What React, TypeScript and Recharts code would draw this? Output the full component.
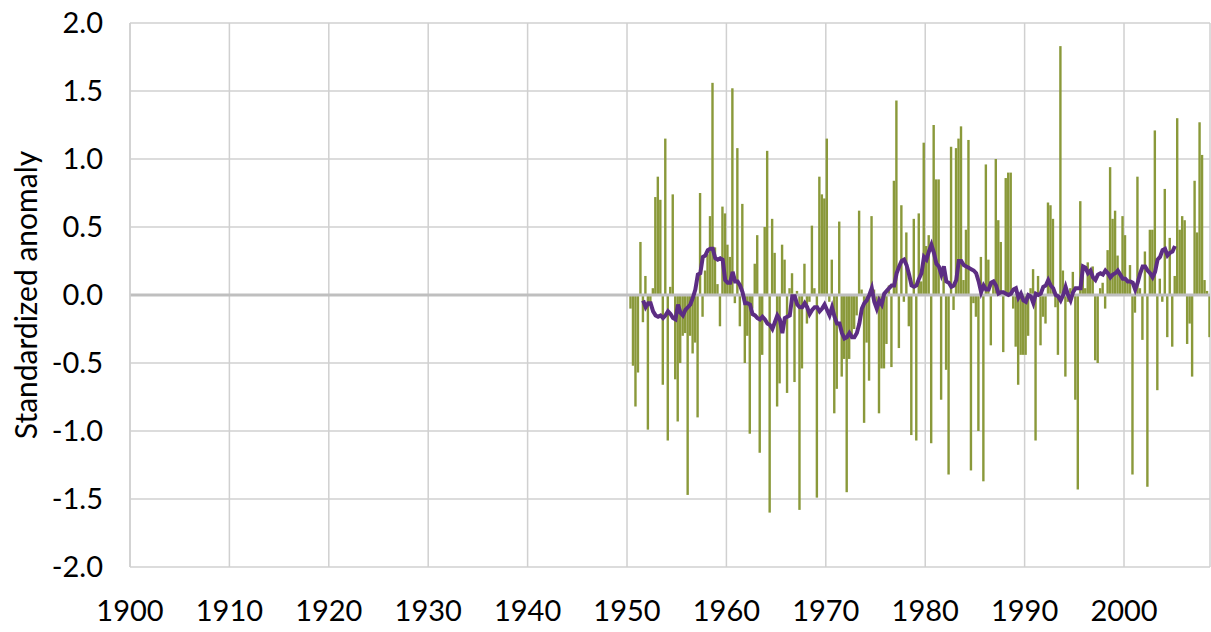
import { ComposedChart, Bar, Line, XAxis, YAxis, CartesianGrid, ReferenceLine } from 'recharts';

// seasonal values, one bar every quarter from 1950.375 onwards
const firstBarYear = 1950.375;
const step = 0.25;

const anomaly = [
    -0.10, -0.52, -0.82, -0.57, 0.39, -0.20, 0.14, -0.99, -0.08, 0.05,
    0.72, 0.87, 0.70, -0.66, 1.15, -1.07, 0.06, 0.74, -0.62, -0.93,
    -0.50, -0.30, -0.28, -1.47, -0.30, -0.43, -0.35, -0.90, 0.75, -0.16,
    0.18, 0.30, 0.58, 1.56, 0.35, 0.08, -0.23,
    0.65, 0.60, 0.37, 0.28, 1.52, -0.06, 1.08, -0.23, 0.67, -0.50,
    -0.30, -1.02, -0.10, 0.23, 0.44, -1.16, -0.44, 0.50, 1.06, -1.60,
    0.56, 0.31, -0.82, -0.65, 0.37, 0.26, -0.72, 0.05, 0.16, -0.64,
    0.03, -1.58, -0.54, 0.23, -0.21, -0.05, 0.51, 0.05, -1.49, 0.87,
    0.74, 0.71, 1.15, -0.05, 0.26, -0.87, -0.69, 0.54, -0.60, -0.47,
    -1.45, -0.47, -0.30, -0.25, -0.15, 0.62, 0.04, -0.94, -0.35, -0.63,
    0.58, 0.04, -0.10, -0.87, -0.54, -0.54, -0.36, 0.07, -0.53, 0.84,
    1.43, -0.39, 0.66, -0.05, 0.46, -0.23, -1.03, 0.56, -1.07,
    0.60, 0.10, 1.12, 0.36, 0.44, -1.09, 1.25, 0.85, 0.85, -0.77,
    0.16, -0.55, -1.32, 1.09, -0.11, 1.08, 1.15, 1.24, 0.11, 0.48,
    1.14, -1.29, -0.06, -0.16, -1.00, 0.28, -1.37, 0.96, 0.26, -0.37,
    0.10, 1.00, 0.55, 0.39, -0.42, 0.86, 0.90, 0.90, -0.10, -0.38,
    -0.66, -0.44, -0.44, -0.44, -0.30, 0.05, 0.19, -1.07, 0.14, -0.37,
    -0.16, -0.21, 0.68, 0.66, 0.56, -0.09, -0.44, 1.83, 0.18, -0.60,
    -0.05, 0.05, 0.17, -0.77, -1.43, 0.69, 0.21, 0.05, 0.24, 0.16,
    0.21, -0.48, -0.50, 0.05, 0.09, -0.10, 0.33, 0.94, 0.56,
    0.62, 0.29, 0.15, 0.58, 0.44, 0.10, 0.22, -1.32, -0.13, 0.87,
    0.05, -0.33, 0.32, -1.41, 0.48, 0.48, 1.21, -0.70, 0.12, -0.05,
    0.78, -0.31, 0.42, -0.38, 0.14, 1.30, 0.48, 0.58, 0.55, -0.36,
    -0.21, -0.60, 0.84, 0.46, 1.27, 1.03, 0.11, 0.03, -0.31,
];

// running mean starts 5 seasons after the first bar
const meanOffset = 5;
const runningMean = [
    -0.04, -0.09, -0.06, -0.06, -0.12, -0.15, -0.16, -0.15, -0.17, -0.15,
    -0.12, -0.14, -0.17, -0.18, -0.07, -0.13, -0.15, -0.11, -0.09, -0.07,
    -0.02, 0.04, 0.15, 0.16, 0.28, 0.29, 0.33, 0.34, 0.34, 0.27,
    0.26, 0.27,
    0.26, 0.11, 0.09, 0.09, 0.17, 0.10, 0.10, 0.07, 0.02, -0.06,
    -0.06, -0.07, -0.14, -0.15, -0.17, -0.18, -0.16, -0.18, -0.21, -0.22,
    -0.25, -0.20, -0.15, -0.18, -0.28, -0.17, -0.16, -0.15, -0.01, -0.01,
    -0.07, -0.09, -0.09, -0.06, -0.09, -0.14, -0.11, -0.09, -0.09,
    -0.12, -0.10, -0.07, -0.11, -0.15, -0.09, -0.16, -0.21, -0.21, -0.28,
    -0.32, -0.31, -0.28, -0.31, -0.31, -0.28, -0.21, -0.10, -0.06, -0.04,
    0.00, 0.05, -0.05, -0.10, -0.04, -0.07, 0.01, 0.03, 0.05, 0.07,
    0.07, 0.16, 0.21, 0.25, 0.26, 0.22, 0.15, 0.07, 0.06,
    0.07, 0.12, 0.16, 0.28, 0.26, 0.32, 0.37, 0.31, 0.23, 0.21,
    0.15, 0.21, 0.10, 0.09, 0.06, 0.07, 0.11, 0.25, 0.25, 0.22,
    0.21, 0.20, 0.19, 0.18, 0.16, 0.10, 0.02, 0.07, 0.04, 0.04,
    0.09, 0.10, 0.07, 0.01, 0.02, 0.02, 0.01, 0.00, 0.01,
    0.04, 0.05, -0.02, 0.01, -0.04, -0.05, 0.00, -0.01, -0.06, 0.01,
    0.00, 0.01, 0.06, 0.07, 0.11, 0.07, 0.05, 0.00, -0.01, -0.04,
    0.00, 0.06, 0.00, -0.04, 0.02, 0.05, 0.05, 0.05, 0.21, 0.20,
    0.16, 0.18, 0.13, 0.11, 0.15, 0.16, 0.15, 0.18, 0.16,
    0.13, 0.15, 0.16, 0.18, 0.15, 0.12, 0.12, 0.10, 0.10, 0.09,
    0.04, 0.09, 0.16, 0.21, 0.21, 0.18, 0.16, 0.13, 0.17, 0.26,
    0.28, 0.33, 0.34, 0.29, 0.31, 0.32, 0.36,
];

const yearTicks = [1900, 1910, 1920, 1930, 1940, 1950, 1960, 1970, 1980, 1990, 2000];
const valueTicks = [-2, -1.5, -1, -0.5, 0, 0.5, 1, 1.5, 2];

const data = anomaly.map((v, i) => {
    const m = i - meanOffset;
    return {
        year: firstBarYear + i * step,
        anomaly: v,
        mean: m >= 0 && m < runningMean.length ? runningMean[m] : null,
    };
});

const font = 'Lato, "Open Sans", sans-serif';
const barColor = '#8A993A';

// bars sit only 2.5px apart, so draw each one a fixed 2.4px wide around its centre
function ThinBar(props: any) {
    const { x, y, width, height } = props;
    if (x == null || y == null) return null;
    const cx = x + width / 2;
    const top = Math.min(y, y + height);
    return <rect x={cx - 1.2} y={top} width={2.4} height={Math.abs(height)} fill={barColor} />;
}

function AxisTitle(props: any) {
    const { y, height } = props.viewBox;
    const cx = 25;
    const cy = y + height / 2;
    return (
        <text
            x={cx}
            y={cy}
            transform={`rotate(-90, ${cx}, ${cy})`}
            textAnchor="middle"
            dominantBaseline="central"
            fontFamily={font}
            fontSize={30}
            fill="#000"
        >
            Standardized anomaly
        </text>
    );
}

export default function App() {
    return (
        <div style={{ position: 'absolute', left: 0, top: 0, background: '#fff' }}>
            <ComposedChart
                width={1211}
                height={632}
                data={data}
                margin={{ top: 23, right: 1, bottom: 0, left: 0 }}
            >
                <CartesianGrid stroke="#D0D0D0" strokeWidth={1.5} />
                <XAxis
                    dataKey="year"
                    type="number"
                    domain={[1900, 2008.65]}
                    ticks={yearTicks}
                    allowDataOverflow
                    height={65}
                    axisLine={false}
                    tickLine={false}
                    tickSize={0}
                    tickMargin={33}
                    tick={{ fill: '#000', fontSize: 29, fontFamily: font }}
                />
                <YAxis
                    type="number"
                    domain={[-2, 2]}
                    ticks={valueTicks}
                    width={130}
                    axisLine={{ stroke: '#D0D0D0', strokeWidth: 1.5 }}
                    tickLine={false}
                    tickSize={0}
                    tickMargin={27}
                    tickFormatter={(v: number) => v.toFixed(1)}
                    tick={{ fill: '#000', fontSize: 29, fontFamily: font }}
                    label={{ content: AxisTitle }}
                />
                <Bar dataKey="anomaly" fill={barColor} barSize={2} shape={ThinBar} isAnimationActive={false} />
                <ReferenceLine y={0} stroke="#BFBFBF" strokeWidth={3} />
                <Line
                    dataKey="mean"
                    type="linear"
                    stroke="#5C2D83"
                    strokeWidth={4}
                    dot={false}
                    activeDot={false}
                    isAnimationActive={false}
                />
            </ComposedChart>
        </div>
    );
}
